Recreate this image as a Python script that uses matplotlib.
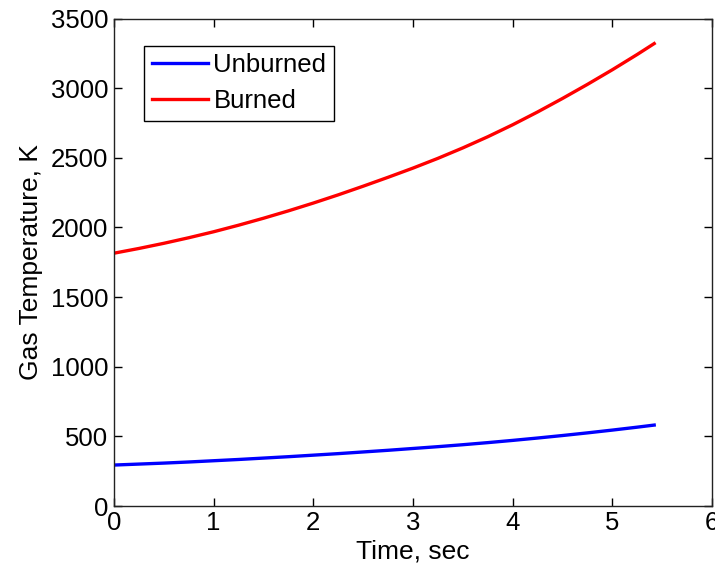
import matplotlib
matplotlib.use("Agg")
import matplotlib.pyplot as plt

plt.rcParams['font.family'] = ['Liberation Sans', 'DejaVu Sans']

time_s = [0.0, 0.25, 0.5, 0.75, 1.0, 1.25, 1.5, 1.75, 2.0, 2.25, 2.5, 2.75,
          3.0, 3.25, 3.5, 3.75, 4.0, 4.25, 4.5, 4.75, 5.0, 5.25, 5.42]
unburned_K = [294, 301, 308, 316, 325, 334, 344, 354, 365, 376, 388, 400,
              413, 426, 440, 455, 471, 488, 506, 525, 545, 566, 581]
burned_K = [1815, 1849, 1886, 1926, 1969, 2016, 2066, 2119, 2175, 2234, 2296, 2360,
            2426, 2496, 2571, 2651, 2737, 2829, 2926, 3027, 3132, 3242, 3320]

x_ticks = [0, 1, 2, 3, 4, 5, 6]
y_ticks = [0, 500, 1000, 1500, 2000, 2500, 3000, 3500]

FS = 18.5

fig = plt.figure(figsize=(7.15, 5.71), dpi=100)
ax = fig.add_axes([114/715, 65/571, 598/715, 487.5/571])

ax.plot(time_s, unburned_K, color='#0000ff', lw=2.4, label='Unburned')
ax.plot(time_s, burned_K, color='#ff0000', lw=2.4, label='Burned')

ax.set_xlim(0, 6)
ax.set_ylim(0, 3500)
ax.set_xticks(x_ticks)
ax.set_yticks(y_ticks)
ax.tick_params(direction='in', length=6, width=1, labelsize=FS,
               top=True, right=True, colors='black')
ax.tick_params(axis='x', pad=3.5)
ax.tick_params(axis='y', pad=4)
for s in ax.spines.values():
    s.set_linewidth(1.0)
    s.set_color('#222222')

ax.set_xlabel('Time, sec', fontsize=19, labelpad=3)
ax.set_ylabel('Gas Temperature, K', fontsize=19, labelpad=6)

leg = ax.legend(loc='upper left', bbox_to_anchor=(30/598, 460.3/487.5),
                borderaxespad=0, fancybox=False, edgecolor='black',
                framealpha=1, fontsize=FS, handlelength=2.2,
                handletextpad=0.2, borderpad=0.3, labelspacing=0.45)
leg.get_frame().set_linewidth(1.0)

fig.savefig('out.png', dpi=100)
